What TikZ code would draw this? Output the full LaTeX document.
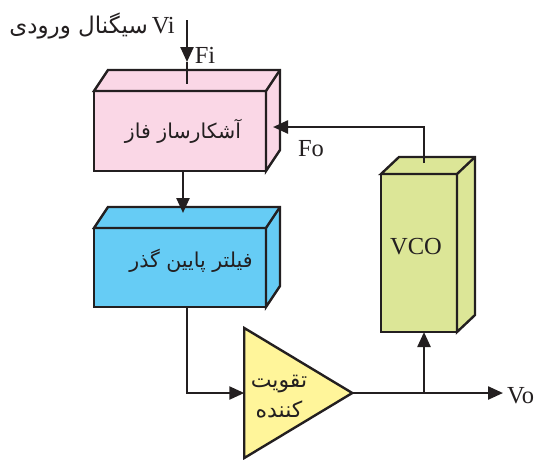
\documentclass[tikz,border=0pt]{standalone}
\usepackage{fontspec}
\setmainfont{Liberation Serif}
\newfontfamily\persianfont[Script=Arabic]{DejaVu Sans}
\TeXXeTstate=1
\usetikzlibrary{positioning,calc,arrows.meta,shapes.geometric}
\definecolor{blockink}{HTML}{231F20}
\definecolor{detectorpink}{HTML}{FAD7E6}
\definecolor{filterblue}{HTML}{66CCF5}
\definecolor{vcogreen}{HTML}{DCE697}
\definecolor{ampyellow}{HTML}{FFF59A}
\newcommand{\FaTxt}[1]{{\persianfont\beginR #1\endR}}
% top and side faces behind a front face node
\newcommand{\BlockFaces}[4]{%
  \filldraw[face,fill=#4] (#1.north west) -- ++(#2,#3) -- ($(#1.north east)+(#2,#3)$)
    -- ($(#1.south east)+(#2,#3)$) -- (#1.south east) -- (#1.north east) -- cycle;
  \draw[face] (#1.north east) -- ($(#1.north east)+(#2,#3)$);}

\begin{document}
\begin{tikzpicture}[
    x=1pt,y=-1pt,
    face/.style={draw=blockink,line width=2.4pt,line join=miter},
    front/.style={face,outer sep=0pt,inner sep=0pt,align=center,text=blockink},
    amp/.style={face,isosceles triangle,isosceles triangle stretches,fill=ampyellow,
                minimum width=130pt,minimum height=108pt,inner sep=0pt,outer sep=0pt},
    txt/.style={inner sep=0pt,text=blockink,font=\fontsize{24.5}{26}\selectfont},
    fatxt/.style={inner sep=0pt,text=blockink,align=center,font=\fontsize{20.5}{30}\selectfont},
    arr/.style={-{Stealth[length=15pt,width=13pt,inset=0pt]},draw=blockink,line width=2.4pt},
    wire/.style={draw=blockink,line width=2.4pt},
  ]
    \useasboundingbox (0,0) rectangle (537,459);

    \node[front,fill=detectorpink,minimum width=172pt,minimum height=80pt] (detector) at (180,131) {};
    \BlockFaces{detector}{14}{-21}{detectorpink}
    \node[fatxt] (detectortext) at (183,131) {\FaTxt{آشکارساز فاز}};

    \node[front,fill=filterblue,minimum width=172pt,minimum height=79pt] (filter) at (180,267.5) {};
    \BlockFaces{filter}{14}{-21}{filterblue}
    \node[fatxt] (filtertext) at (191,261) {\FaTxt{فیلتر پایین گذر}};

    \node[front,fill=vcogreen,minimum width=76pt,minimum height=158pt] (vco) at (419,253) {};
    \BlockFaces{vco}{18}{-17}{vcogreen}
    \node[txt] (vcotext) at (416,247) {VCO};

    \node[amp] (amplifier) at (281,393) {};
    \node[fatxt,font=\fontsize{22}{30}\selectfont] (amptext) at (279,397) {\FaTxt{تقویت}\\\FaTxt{کننده}};

    \node[fatxt,anchor=east,font=\fontsize{23}{25}\selectfont] (vitext) at (148,26) {\FaTxt{سیگنال ورودی}};
    \node[txt,anchor=east] (vi) at (175,26) {Vi};
    \node[txt] (fi) at (205,55) {Fi};
    \node[txt] (fo) at (311,149) {Fo};
    \node[txt,anchor=west] (vo) at (507,396) {Vo};

    \coordinate (fistart) at (187,20);
    \coordinate (fitip) at (187,62);
    \coordinate (fiend) at (187,84);
    \coordinate (foend) at (424,163);
    \coordinate (fotip) at (273,127);
    \coordinate (outtip) at (503,393);
    \coordinate (branch) at (424,393);

    \draw[arr] (fistart) -- (fitip);
    \draw[wire] (fitip) -- (fiend);
    \draw[arr] ($(detector.south)+(3,0)$) -- ($(filter.north)+(3,-15)$);
    \draw[arr] ($(filter.south)+(7,0)$) |- (amplifier.lower side);
    \draw[wire] (foend) |- ($(fotip)+(10,0)$);
    \draw[arr] ($(fotip)+(15,0)$) -- (fotip);
    \draw[arr] (amplifier.apex) -- (outtip);
    \draw[arr] (branch) -- (vco.south -| branch);
  \end{tikzpicture}
\end{document}
